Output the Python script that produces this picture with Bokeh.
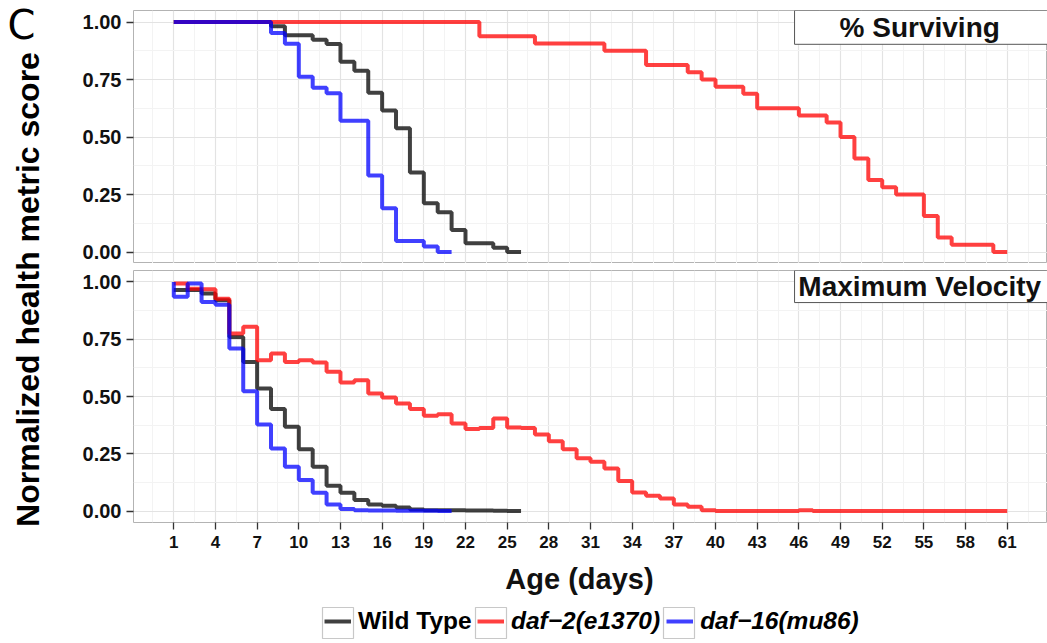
from math import pi
from bokeh.plotting import figure
from bokeh.models import (FixedTicker, Grid, Label, BoxAnnotation, Legend, LegendItem,
                          Range1d, PrintfTickFormatter)
from bokeh.layouts import row, column
from bokeh.embed import file_html
from bokeh.resources import INLINE

# ---------------- data ----------------
x_ticks = [1, 4, 7, 10, 13, 16, 19, 22, 25, 28, 31, 34, 37, 40, 43, 46, 49, 52, 55, 58, 61]
x_minor = [-0.5, 2.5, 5.5, 8.5, 11.5, 14.5, 17.5, 20.5, 23.5, 26.5, 29.5, 32.5, 35.5,
           38.5, 41.5, 44.5, 47.5, 50.5, 53.5, 56.5, 59.5, 62.5]
y_ticks = [0.0, 0.25, 0.5, 0.75, 1.0]
y_minor = [0.125, 0.375, 0.625, 0.875]

series_names = ["Wild Type", "daf\u22122(e1370)", "daf\u221216(mu86)"]

# % Surviving
surv_wt_days = [1, 2, 3, 4, 5, 6, 7, 8, 9, 10, 11, 12, 13, 14, 15, 16, 17, 18, 19, 20, 21,
                22, 23, 24, 25, 26]
surv_wt = [1.0, 1.0, 1.0, 1.0, 1.0, 1.0, 1.0, 0.981, 0.942, 0.942, 0.923, 0.904, 0.827,
           0.788, 0.692, 0.615, 0.538, 0.346, 0.212, 0.173, 0.096, 0.038, 0.038, 0.019,
           0.0, 0.0]
surv_d2_days = [1, 23, 27, 32, 35, 38, 39, 40, 42, 43, 46, 48, 49, 50, 51, 52, 53, 55, 56,
                57, 60, 61]
surv_d2 = [1.0, 0.938, 0.906, 0.875, 0.813, 0.781, 0.75, 0.719, 0.688, 0.625, 0.594, 0.563,
           0.5, 0.406, 0.313, 0.281, 0.25, 0.156, 0.063, 0.031, 0.0, 0.0]
surv_d16_days = [1, 8, 9, 10, 11, 12, 13, 15, 16, 17, 19, 20, 21]
surv_d16 = [1.0, 0.952, 0.905, 0.762, 0.714, 0.69, 0.571, 0.333, 0.19, 0.048, 0.024, 0.0, 0.0]

# Maximum Velocity
vel_wt_days = [1, 2, 3, 4, 5, 6, 7, 8, 9, 10, 11, 12, 13, 14, 15, 16, 17, 18, 19, 20, 21,
               22, 23, 24, 25, 26]
vel_wt = [0.965, 0.965, 0.95, 0.92, 0.76, 0.651, 0.535, 0.445, 0.368, 0.27, 0.193, 0.11,
          0.08, 0.048, 0.029, 0.023, 0.016, 0.007, 0.004, 0.003, 0.003, 0.002, 0.002, 0.001,
          0.0, 0.0]
vel_d2_days = [1, 2, 3, 4, 5, 6, 7, 8, 9, 10, 11, 12, 13, 14, 15, 16, 17, 18, 19, 20, 21,
               22, 23, 24, 25, 26, 27, 28, 29, 30, 31, 32, 33, 34, 35, 36, 37, 38, 39, 40,
               46, 47, 61]
vel_d2 = [0.993, 0.97, 0.968, 0.927, 0.775, 0.804, 0.658, 0.688, 0.651, 0.658, 0.648, 0.608,
          0.561, 0.571, 0.513, 0.496, 0.469, 0.445, 0.416, 0.422, 0.382, 0.358, 0.363, 0.404,
          0.365, 0.363, 0.334, 0.305, 0.27, 0.23, 0.215, 0.186, 0.131, 0.081, 0.067, 0.055,
          0.029, 0.019, 0.004, 0.0, 0.003, 0.0, 0.0]
vel_d16_days = [1, 1, 2, 3, 4, 5, 6, 7, 8, 9, 10, 11, 12, 13, 14, 15, 16, 17, 18, 19, 20, 21]
vel_d16 = [1.0, 0.935, 0.993, 0.913, 0.9, 0.709, 0.523, 0.378, 0.273, 0.193, 0.135, 0.08,
           0.029, 0.009, 0.003, 0.002, 0.002, 0.001, 0.001, 0.001, 0.0, 0.0]

colors = ["#000000", "#ff0000", "#0000ff"]

FONT = "Liberation Sans"
TEXT = "#111111"

# ---------------- layout constants (page == canvas, no body margin) ----------------
W_TOTAL, H_TOTAL = 1047, 643
LEFT_W = 68
FIG_W = W_TOTAL - LEFT_W          # 979
BORDER_L = 65                     # frame left at page x = 133
FRAME_L = LEFT_W + BORDER_L       # 133
X0, X1 = -1.9, 63.9
H_A = 263                         # top panel figure (frame 10..263)
H_B = 293                         # bottom panel figure (frame 270..522, axis to 556)
H_C = H_TOTAL - H_A - H_B         # legend / x-title strip (556..643)


def style_panel(p, show_xaxis):
    p.background_fill_color = "white"
    p.border_fill_color = "white"
    p.outline_line_color = "#b3b3b3"
    p.outline_line_width = 1
    yax = p.yaxis[0]
    yax.ticker = FixedTicker(ticks=y_ticks, minor_ticks=y_minor)
    yax.formatter = PrintfTickFormatter(format="%.2f")
    yax.axis_line_color = None
    yax.major_tick_in = 0
    yax.major_tick_out = 7
    yax.major_tick_line_color = "#333333"
    yax.major_tick_line_width = 1.3
    yax.minor_tick_line_color = None
    yax.major_label_standoff = 5
    yax.major_label_text_font = FONT
    yax.major_label_text_font_style = "bold"
    yax.major_label_text_font_size = "20px"
    yax.major_label_text_color = TEXT
    for g in list(p.grid):
        if g in p.center:
            p.center.remove(g)
    xg = Grid(dimension=0, ticker=FixedTicker(ticks=x_ticks, minor_ticks=x_minor))
    yg = Grid(dimension=1, ticker=FixedTicker(ticks=y_ticks, minor_ticks=y_minor))
    for g in (xg, yg):
        g.grid_line_color = "#e3e3e3"
        g.grid_line_width = 1.2
        g.minor_grid_line_color = "#f3f3f3"
        g.minor_grid_line_width = 1
        g.level = "underlay"
        p.add_layout(g)
    if show_xaxis:
        xax = p.xaxis[0]
        xax.ticker = FixedTicker(ticks=x_ticks, minor_ticks=x_minor)
        xax.axis_line_color = None
        xax.major_tick_in = 0
        xax.major_tick_out = 7
        xax.major_tick_line_color = "#333333"
        xax.major_tick_line_width = 1.3
        xax.minor_tick_line_color = None
        xax.major_label_standoff = 6
        xax.major_label_text_font = FONT
        xax.major_label_text_font_style = "bold"
        xax.major_label_text_font_size = "17px"
        xax.major_label_text_color = TEXT


def strip(p, text, bottom):
    p.add_layout(BoxAnnotation(left=45.69, bottom=bottom, fill_color="white", fill_alpha=1.0,
                               line_color="#555555", line_width=1, line_alpha=1.0))
    p.add_layout(Label(x=54.7, y=1.05 - (1.05 - bottom) / 2, text=text, text_align="center",
                       text_baseline="middle", text_font=FONT, text_font_style="bold",
                       text_font_size="28px", text_color=TEXT))


# ---------------- left label figure ----------------
lab = figure(width=LEFT_W, height=H_TOTAL, x_range=Range1d(0, LEFT_W),
             y_range=Range1d(0, H_TOTAL), output_backend="svg", toolbar_location=None,
             min_border=0, x_axis_location=None, y_axis_location=None,
             outline_line_color=None)
lab.grid.visible = False
lab.add_layout(Label(x=7, y=H_TOTAL - 24, text="C",
                     text_font="DejaVu Sans", text_font_size="40px",
                     text_baseline="alphabetic", text_color="#000000"))
lab.add_layout(Label(x=27, y=H_TOTAL - 289, text="Normalized health metric score",
                     angle=pi / 2, text_align="center", text_baseline="alphabetic",
                     text_font=FONT, text_font_style="bold", text_font_size="32px",
                     text_color="#000000"))

# ---------------- top panel ----------------
pa = figure(width=FIG_W, height=H_A, x_range=Range1d(X0, X1), y_range=Range1d(-0.05, 1.05),
            output_backend="svg", toolbar_location=None, x_axis_location=None,
            min_border_left=BORDER_L, min_border_right=0, min_border_top=10,
            min_border_bottom=0)
style_panel(pa, False)
for d, v, c in zip([surv_wt_days, surv_d2_days, surv_d16_days], [surv_wt, surv_d2, surv_d16],
                   colors):
    pa.step(d, v, mode="after", line_color=c, line_width=4, line_alpha=0.75)
strip(pa, "% Surviving", 0.903)

# ---------------- bottom panel ----------------
pb = figure(width=FIG_W, height=H_B, x_range=pa.x_range, y_range=Range1d(-0.05, 1.05),
            output_backend="svg", toolbar_location=None,
            min_border_left=BORDER_L, min_border_right=0, min_border_top=7,
            min_border_bottom=34)
style_panel(pb, True)
for d, v, c in zip([vel_wt_days, vel_d2_days, vel_d16_days], [vel_wt, vel_d2, vel_d16], colors):
    pb.step(d, v, mode="after", line_color=c, line_width=4, line_alpha=0.75)
strip(pb, "Maximum Velocity", 0.91)

# ---------------- x title + legend strip (data units == page pixels) ----------------
pc = figure(width=FIG_W, height=H_C, x_range=Range1d(FRAME_L, W_TOTAL), y_range=Range1d(0, H_C),
            output_backend="svg", toolbar_location=None, min_border=0,
            min_border_left=BORDER_L, min_border_right=0,
            x_axis_location=None, y_axis_location=None, outline_line_color=None)
pc.grid.visible = False

# legend key boxes (page x positions of the ggplot-style key frames)
key_left = [322, 475, 663]
key_right = [353, 506, 694]
pc.quad(left=key_left, right=key_right, bottom=5, top=36, fill_color="white",
        line_color="#c8c8c8", line_width=1.2)

pc.extra_x_ranges = {"off": Range1d(-200, -199)}
key_rends = []
for d, v, c in zip([vel_wt_days, vel_d2_days, vel_d16_days], [vel_wt, vel_d2, vel_d16], colors):
    key_rends.append(pc.step(d, v, mode="after", line_color=c, line_width=4, line_alpha=0.75,
                             x_range_name="off"))

pc.add_layout(Label(x=579, y=65, text="Age (days)",
                    text_align="center", text_baseline="alphabetic", text_font=FONT,
                    text_font_style="bold", text_font_size="29px", text_color=TEXT))


def make_legend(items, loc, style):
    return Legend(items=items, location=loc, orientation="horizontal", padding=0, margin=0,
                  border_line_color=None, background_fill_alpha=0, glyph_width=27,
                  glyph_height=26, label_height=26, label_standoff=7, spacing=6,
                  label_text_font=FONT, label_text_font_style=style,
                  label_text_font_size="24.5px", label_text_color="#000000")


pc.add_layout(make_legend([LegendItem(label=series_names[0], renderers=[key_rends[0]])],
                          (324 - FRAME_L, 8), "bold"))
pc.add_layout(make_legend([LegendItem(label=series_names[1], renderers=[key_rends[1]]),
                           LegendItem(label=series_names[2], renderers=[key_rends[2]])],
                          (477 - FRAME_L, 8), "bold italic"))

layout = row(lab, column(pa, pb, pc))
open("out.html", "w").write(file_html(layout, INLINE))
